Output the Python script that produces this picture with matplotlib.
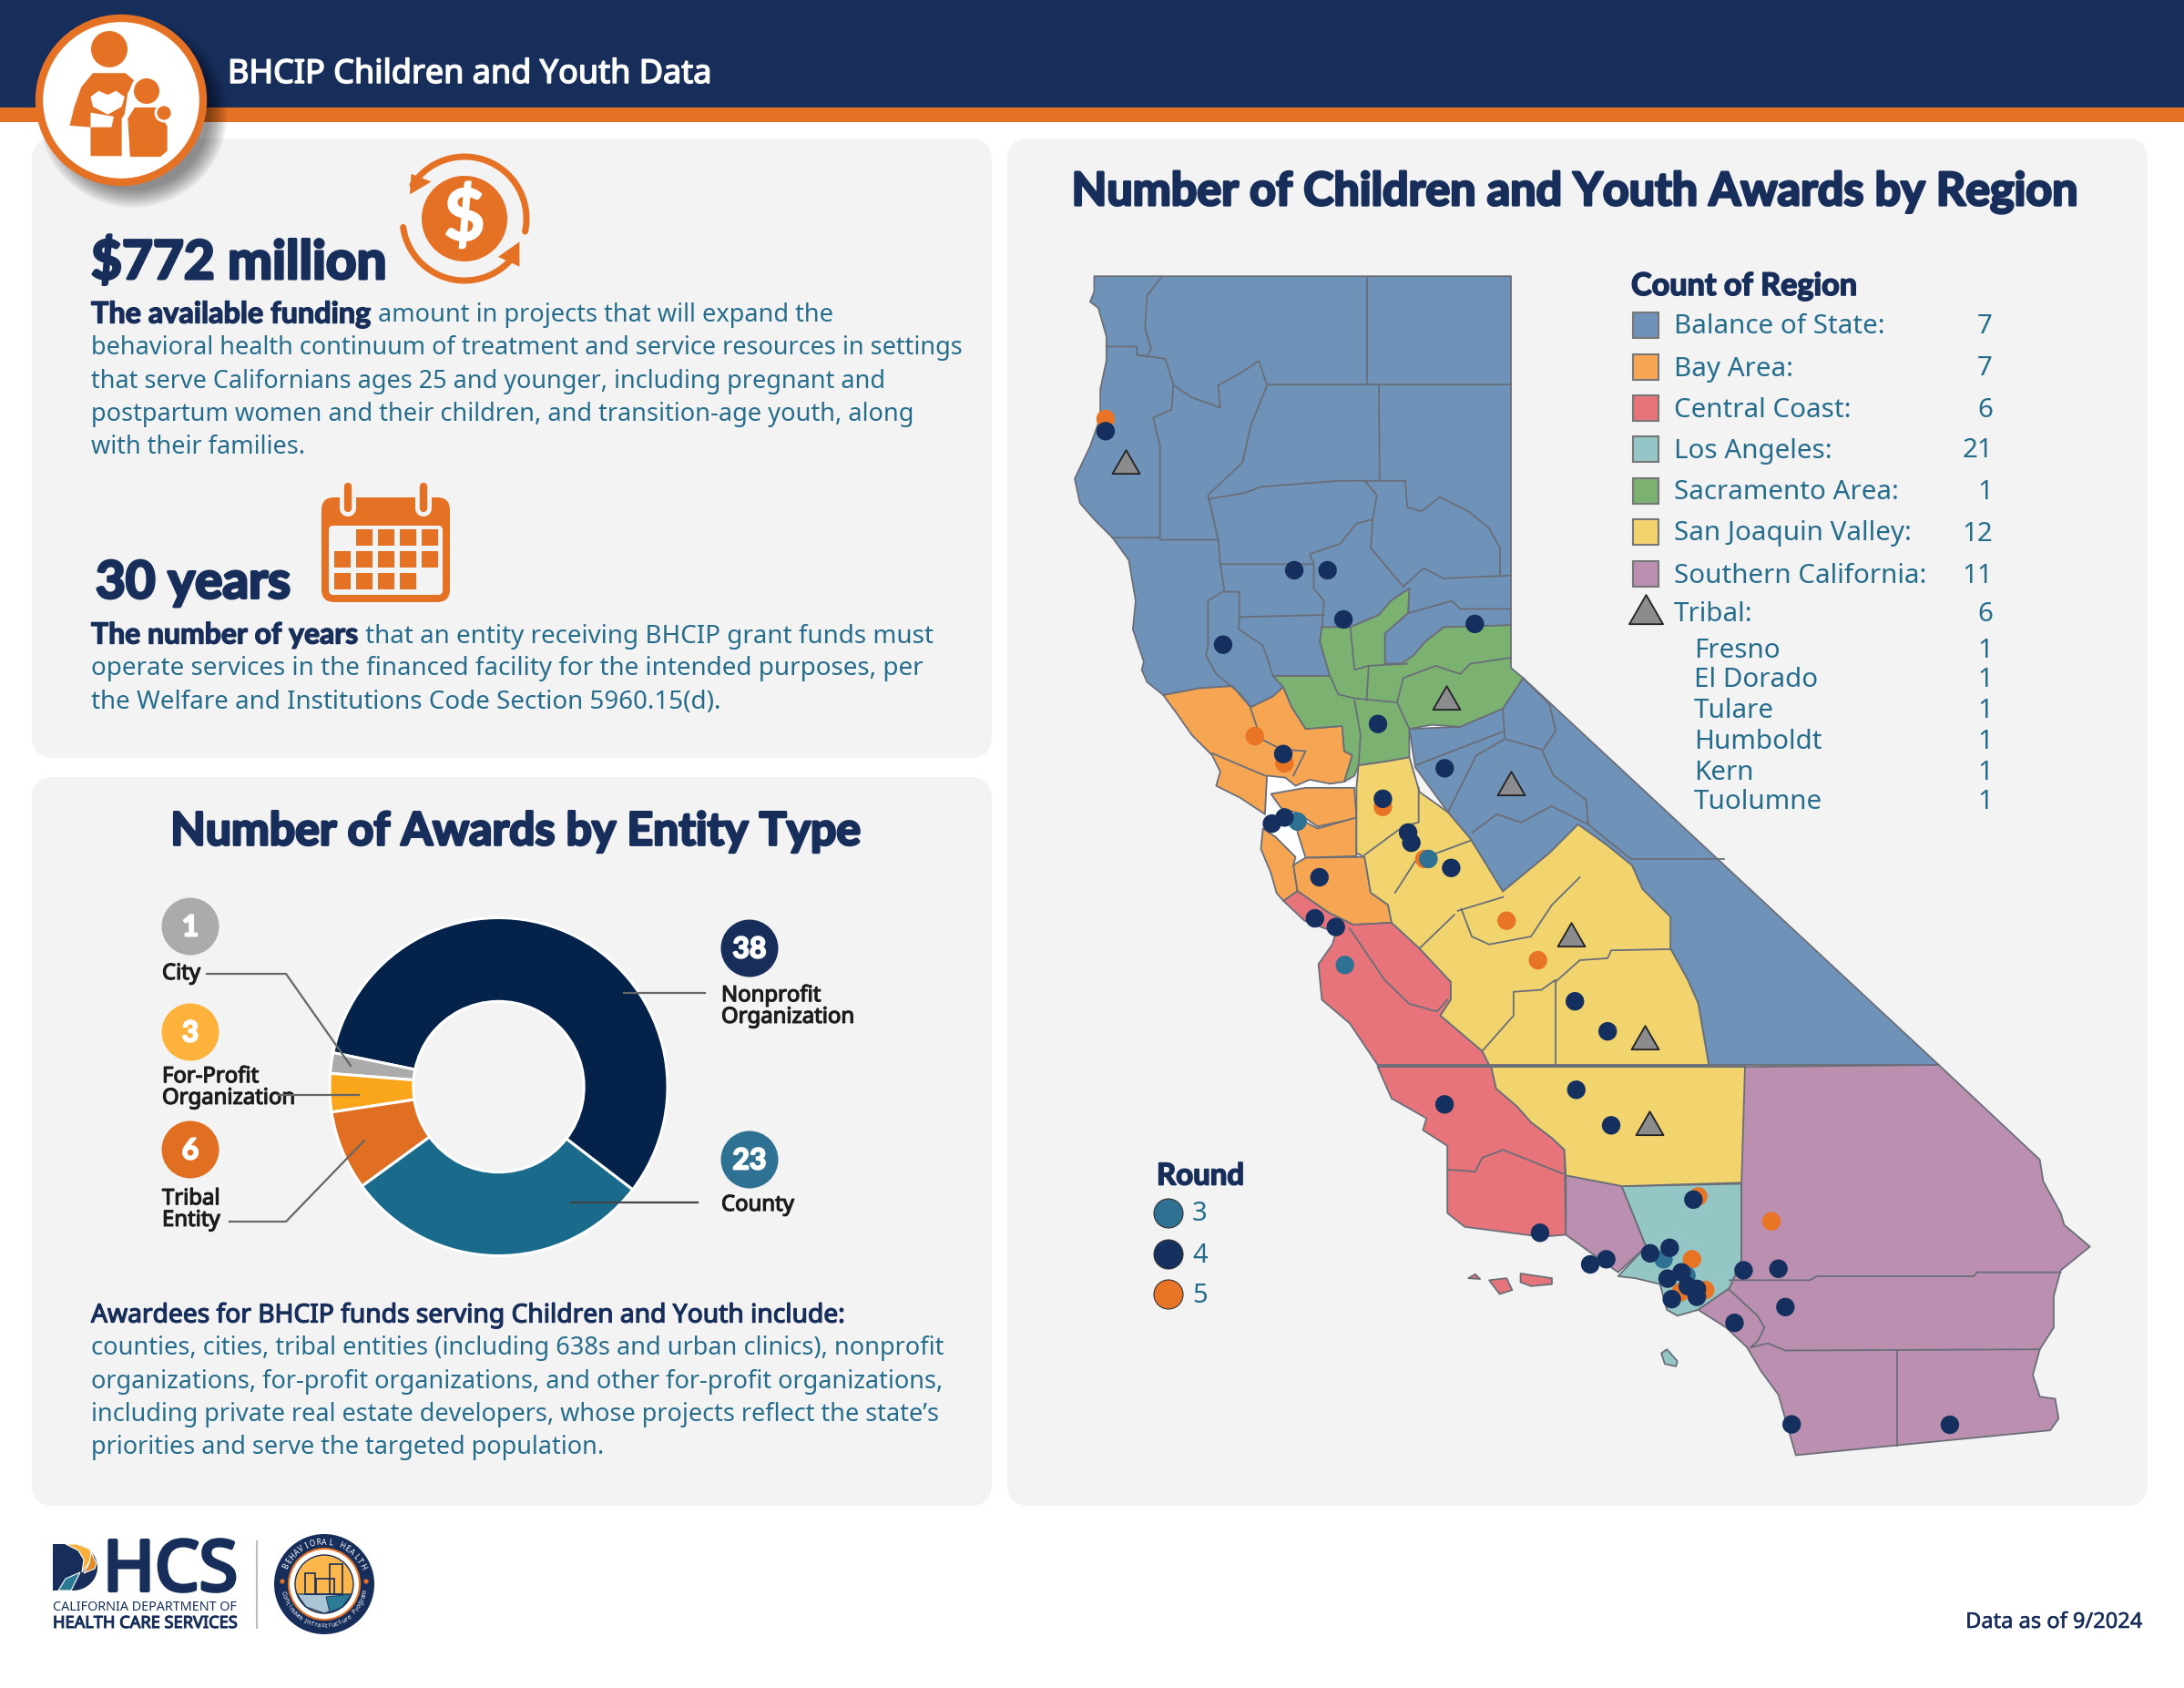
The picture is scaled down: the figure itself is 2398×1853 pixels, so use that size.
import numpy as np
import matplotlib
matplotlib.use("Agg")
import matplotlib.pyplot as plt
import matplotlib.patheffects as pe
from matplotlib.patches import Polygon, FancyBboxPatch, Circle, Ellipse, Rectangle

W, H = 2398, 1853
NAVY, TEAL, ORANGE = "#172E5B", "#266D8C", "#E57125"
CARD = "#F3F3F3"
BODY = "Noto Sans"
HEAVY = "Lato"

# ---------------- data ----------------
entity_names = ["Nonprofit\nOrganization", "County", "Tribal\nEntity", "For-Profit\nOrganization", "City"]
entity_counts = [38, 23, 6, 3, 1]
# Arc sizes as they are drawn in the picture, counter-clockwise (the printed counts are in the bubbles)
arc_names = ["Nonprofit", "City", "For-Profit", "Tribal", "County"]
arc_sizes = [40.6, 1.4, 2.6, 5.4, 21.0]
arc_colors = ["#05224B", "#ABABAB", "#F9A61B", "#E16F22", "#1A6A8C"]

region_names = ["Balance of State:", "Bay Area:", "Central Coast:", "Los Angeles:",
                "Sacramento Area:", "San Joaquin Valley:", "Southern California:", "Tribal:"]
region_counts = [7, 7, 6, 21, 1, 12, 11, 6]
region_colors = ["#6F92B8", "#F6A553", "#E7747B", "#93C6C4", "#7BB272", "#F2D46E", "#BB8FAF", "#8C8C8E"]
tribal_names = ["Fresno", "El Dorado", "Tulare", "Humboldt", "Kern", "Tuolumne"]
tribal_counts = [1, 1, 1, 1, 1, 1]
round_names = ["3", "4", "5"]
round_colors = ["#2E7192", "#15305F", "#E87425"]

# Map sites, in two survey sheets (north / south) of map units
round4_north = [(188,433),(652,775),(734,775),(773,896),(477,958),(1096,907),(858,1153),(1022,1262),
                (625,1227),(870,1337),(932,1420),(940,1445),(628,1383),(597,1398),(1038,1507),(714,1530)]
round5_north = [(188,403),(555,1183),(628,1250),(870,1357),(972,1485)]
round3_north = [(660,1393),(982,1485)]
round4_south = [(410,134),(440,156),(783,344),(830,420),(785,568),(596,605),(835,658),(953,846),(733,930),
                (805,1010),(828,997),(891,982),(919,968),(1025,1025),(1075,1021),(1085,1118),(1012,1158),
                (916,1046),(936,1030),(922,1098),(945,1065),(958,1072),(958,1092),(1094,1415),(1321,1416)]
round5_south = [(685,140),(730,240),(960,838),(951,997),(1065,901),(970,1075),(935,1080)]
round3_south = [(453,252),(910,997),(943,1038)]
tribal_north = [(237,518),(1025,1097),(1185,1308)]
tribal_south = [(778,185),(883,444),(890,662)]

def n(pts):
    return [(1130 + x / 2.24, 280 + y / 2.24) for x, y in pts]
def s(pts):
    return [(1130 + x / 1.3067, 950 + y / 2.306) for x, y in pts]

balance_polys = [
    n([(160,52),(1185,52),(1185,910),(1020,915),(975,950),(945,985),(915,1005),(875,1005),(875,930),(932,880),(935,820),(890,850),(860,885),(790,915),(720,915),(715,950),(740,1035),(600,1035),(625,1062),(600,1085),(545,1112),(500,1060),(420,1065),(330,1082),(290,1050),(277,1020),(282,1000),(255,920),(262,850),(245,750),(205,695),(160,650),(125,610),(112,550),(150,470),(175,400),(175,330),(190,260),(190,200),(170,130),(150,115),(160,90)]),
    n([(935,1165),(1060,1160),(1165,1115),(1215,1040)]) + s([(1305,505),(975,505),(960,350),(945,290),(920,210),(920,130),(880,60),(865,0)]) + n([(1420,1450),(1350,1400),(1280,1470),(1165,1565),(1085,1435),(1030,1370),(950,1260)]),
]
green_poly = [n([(935,820),(932,880),(875,930),(875,1005),(915,1005),(945,985),(975,950),(1020,915),(1185,910),(1185,1015),(1215,1040),(1165,1115),(1060,1160),(990,1155),(935,1165),(935,1235),(880,1245),(810,1255),(800,1280),(775,1295),(795,1230),(775,1220),(770,1158),(680,1165),(645,1110),(625,1062),(600,1035),(740,1035),(715,950),(720,915),(790,915),(860,885),(890,850)])]
water_poly = [n([(580,1282),(630,1285),(655,1305),(690,1290),(740,1300),(800,1295),(800,1312),(680,1310),(595,1325),(595,1350),(620,1362),(660,1385),(660,1420),(680,1485),(655,1480),(605,1430),(575,1410),(590,1385),(582,1370)])]
bay_polys = [
    n([(330,1082),(420,1065),(500,1060),(545,1112),(600,1085),(625,1062),(645,1110),(680,1165),(770,1158),(775,1220),(795,1230),(775,1295),(740,1300),(690,1290),(655,1305),(630,1285),(585,1280),(580,1375),(520,1335),(460,1305),(470,1270),(450,1230),(400,1180),(365,1130)]),
    n([(595,1325),(680,1310),(800,1310),(805,1385),(710,1405),(660,1372),(620,1360)]),
    n([(660,1385),(710,1410),(805,1383),(805,1478),(680,1482),(660,1420)]),
    n([(575,1410),(605,1430),(655,1480),(650,1500)]) + s([(385,65),(365,90),(355,70),(347,20)]) + n([(570,1460)]),
    n([(650,1500),(680,1482),(825,1480),(840,1568)]) + s([(515,100),(520,145),(465,150),(430,120),(385,65)]),
]
red_polys = [
    s([(365,90),(385,65),(430,120),(465,150),(520,145),(560,210),(605,295),(605,340),(590,380),(650,470),(660,505),(500,505),(460,400),(420,340),(415,250),(435,200),(440,170),(395,140)]),
    s([(500,510),(663,510),(670,565),(700,610),(720,650),(750,690),(768,720),(770,935),(735,940),(625,915),(600,880),(600,710),(565,670),(570,640),(520,590)]),
    s([(630,1045),(640,1035),(647,1047)]),
    s([(660,1050),(685,1045),(693,1075),(675,1085)]),
    s([(705,1033),(750,1045),(750,1060),(720,1065),(705,1055)]),
]
yellow_polys = [
    n([(810,1255),(880,1245),(935,1235),(960,1320),(1030,1370),(1085,1435),(1165,1565),(1280,1470),(1350,1400),(1420,1450)]) + s([(865,0),(880,60),(920,130),(920,210),(945,290),(960,350),(975,505),(660,505),(650,470),(590,380),(605,340),(605,295),(560,210),(520,145),(515,100),(490,69)]) + n([(825,1480),(805,1470),(805,1310)]),
    s([(663,510),(1027,510),(1027,803),(850,812),(770,785),(768,720),(750,690),(720,650),(700,610),(670,565)]),
]
purple_polys = [
    s([(1027,510),(1305,505),(1450,745),(1455,800),(1480,880),(1485,910),(1522,965),(1480,1025),(1470,1090),(1470,1170),(1450,1225),(1440,1290),(1450,1345),(1472,1350),(1477,1400),(1465,1430),(1100,1493),(1075,1340),(1050,1280),(1030,1220),(1000,1170),(960,1125),(1005,1070),(1022,1000),(1022,806)]),
    s([(770,785),(850,812),(885,965),(845,1030),(770,935)]),
]
teal_polys = [
    s([(850,812),(1022,806),(1022,1000),(1005,1070),(960,1125),(930,1140),(915,1125),(905,1060),(870,1045),(845,1040),(885,965)]),
    s([(907,1235),(915,1225),(930,1255),(928,1268),(912,1262)]),
]
county_lines = [
    n([(325,55),(290,100),(285,180),(300,230),(290,250),(265,245),(265,225),(190,225)]),
    n([(265,245),(335,255),(355,320),(350,380),(305,400),(322,470),(322,695),(205,695)]),
    n([(355,320),(400,350),(470,375),(465,320),(520,290),(565,260),(585,320),(545,420),(525,510),(440,590),(465,700),(322,700)]),
    n([(830,55),(830,315)]), n([(585,318),(1185,318)]), n([(860,318),(862,555)]),
    n([(440,600),(530,585),(570,570),(760,555),(925,555),(930,620),(965,630),(1010,595),(1080,630),(1130,670),(1158,720),(1158,785)]),
    n([(825,555),(855,590),(845,650),(805,660),(765,710),(690,735),(700,760),(470,760)]),
    n([(465,700),(470,760),(480,825),(440,850),(440,960),(435,985),(460,1030),(515,1075),(545,1112)]),
    n([(845,650),(840,720),(920,815)]), n([(700,760),(700,820),(725,850),(720,915)]),
    n([(480,828),(517,828),(517,890),(725,885)]), n([(517,890),(515,920),(575,960),(600,1035)]),
    n([(920,815),(970,770),(1020,795),(1185,788)]), n([(935,880),(1040,850),(1060,870),(1185,870)]),
    n([(790,915),(800,1020),(835,1010),(830,1095)]), n([(740,1035),(760,1080),(800,1090),(905,1100),(935,1165)]),
    n([(800,1095),(815,1180),(810,1255)]), n([(905,1100),(920,1040),(1000,1010),(1060,1030),(1085,1005),(1185,990)]),
    n([(835,1010),(930,1005)]),
    n([(1165,1115),(1170,1190),(1100,1230),(1030,1370)]), n([(950,1255),(1170,1170)]),
    n([(1170,1190),(1260,1215),(1290,1280),(1370,1340),(1375,1400),(1285,1355),(1210,1395),(1150,1375),(1090,1420)]),
    n([(1215,1040),(1280,1105),(1295,1170),(1265,1215)]), n([(1375,1400),(1480,1485),(1709,1485)]),
    n([(545,1115),(570,1190),(620,1215),(680,1220),(650,1280)]), n([(450,1225),(580,1280)]),
    n([(825,1475),(920,1405),(958,1395),(958,1310)]), n([(900,1568),(950,1490),(1085,1440)]),
    s([(560,210),(610,125)]), s([(615,115),(680,80)]), s([(620,110),(635,180),(660,200),(720,180),(750,100),(790,30)]),
    s([(755,295),(790,240),(830,235),(835,215),(920,212)]), s([(755,295),(755,505)]),
    s([(755,290),(735,315),(695,320),(695,380),(650,470)]),
    s([(460,160),(510,290),(545,350),(585,370),(600,340)]),
    s([(500,507),(1027,507)]), s([(600,770),(640,775),(650,740),(680,720),(765,780)]),
    s([(1005,1050),(1120,1050),(1130,1040),(1355,1040),(1360,1030),(1480,1030)]),
    s([(1005,1075),(1045,1140),(1055,1170),(1045,1205),(1035,1220),(1060,1210),(1085,1228),(1450,1225)]),
    s([(1245,1228),(1245,1470)]),
]

# ---------------- canvas ----------------
fig = plt.figure(figsize=(W / 100, H / 100), dpi=100, facecolor="white")
ax = fig.add_axes([0, 0, 1, 1])
ax.set_xlim(0, W); ax.set_ylim(H, 0); ax.axis("off")
rend = fig.canvas.get_renderer()

def txt(s_, x, y, width=None, size=20, color=NAVY, family=BODY, ha="left", z=20, stroke=0, dy=3):
    t = ax.text(x, y + dy, s_, fontsize=size, color=color, family=family, ha=ha, va="center", zorder=z,
                fontweight="bold" if family == HEAVY else "normal")
    if width:
        t.set_fontsize(size * width / t.get_window_extent(rend).width)
    if stroke:
        t.set_path_effects([pe.withStroke(linewidth=stroke, foreground=color)])
    return t

def card(x0, y0, x1, y1):
    ax.add_patch(FancyBboxPatch((x0 + 24, y0 + 24), x1 - x0 - 48, y1 - y0 - 48,
                                boxstyle="round,pad=24,rounding_size=24", fc=CARD, ec="none", zorder=1))

card(35, 152, 1089, 832); card(35, 853, 1089, 1653); card(1106, 152, 2358, 1653)

# header
ax.add_patch(Rectangle((0, 0), W, 118, fc=NAVY, ec="none", zorder=2))
ax.add_patch(Rectangle((0, 118), W, 16, fc=ORANGE, ec="none", zorder=2))
txt("BHCIP Children and Youth Data", 250, 78, width=532, color="white", z=5, stroke=1.1, dy=4)

# round badge
for k in range(14):
    ax.add_patch(Circle((146, 124), 104 - k * 1.5, fc="#000000", alpha=0.035, ec="none", zorder=3))
ax.add_patch(Ellipse((133, 110), 180, 180, fc="white", ec=ORANGE, lw=6, zorder=4))
def z3(pts):
    return [(x / 1.96, y / 2.306) for x, y in pts]
ax.add_patch(Ellipse((120, 54), 40, 40, fc=ORANGE, ec="none", zorder=5))
ax.add_patch(Polygon(z3([(150,318),(160,270),(175,220),(200,185),(270,185),(290,205),(275,235),(268,290),(265,395),(195,395),(195,322)]), fc=ORANGE, ec="none", zorder=5))
ax.add_patch(Polygon(z3([(232,290),(200,270),(195,245),(212,230),(232,240),(250,230),(268,245),(262,270)]), fc="white", ec="none", zorder=6))
ax.add_patch(Polygon(z3([(195,285),(245,295),(240,322),(195,322)]), fc="white", ec="none", zorder=6))
ax.add_patch(Ellipse((161, 100), 36, 36, fc="white", ec="none", zorder=6))
ax.add_patch(Ellipse((161, 100), 28, 28, fc=ORANGE, ec="none", zorder=7))
ax.add_patch(Polygon(z3([(262,400),(262,300),(285,260),(345,260),(375,320),(370,400)]), fc="white", ec="none", zorder=6))
ax.add_patch(Polygon(z3([(280,397),(275,300),(290,272),(335,272),(360,320),(360,382),(345,397)]), fc=ORANGE, ec="none", zorder=7))
ax.add_patch(Ellipse((180, 124), 18, 18, fc=ORANGE, ec="white", lw=2, zorder=8))

# funding block
txt("$772 million", 100, 284, width=324, family=HEAVY, stroke=2.2, dy=4)
txt("The available funding", 100, 343, width=307, family=HEAVY, stroke=1.0, dy=2)
txt("amount in projects that will expand the", 415, 343, width=501, color=TEAL)
for line, y, w in [("behavioral health continuum of treatment and service resources in settings", 379, 955),
                   ("that serve Californians ages 25 and younger, including pregnant and", 416, 871),
                   ("postpartum women and their children, and transition-age youth, along", 452, 905),
                   ("with their families.", 488, 235)]:
    txt(line, 100, y, width=w, color=TEAL)
txt("30 years", 105, 637, width=214, family=HEAVY, stroke=2.2, dy=3)
txt("The number of years", 100, 696, width=293, family=HEAVY, stroke=1.0, dy=1)
txt("that an entity receiving BHCIP grant funds must", 401, 696, width=624, color=TEAL)
txt("operate services in the financed facility for the intended purposes, per", 100, 731, width=914, color=TEAL)
txt("the Welfare and Institutions Code Section 5960.15(d).", 100, 768, width=692, color=TEAL)

# dollar icon
cx, cy = 510, 240
ax.add_patch(Circle((cx, cy), 47, fc=ORANGE, ec="none", zorder=5))
txt("$", cx, cy - 2, size=56, color="white", family=HEAVY, ha="center", z=6, stroke=1.5)
for a0, a1 in [(147, -12), (-35, -172)]:
    th = np.radians(np.linspace(a0, a1, 80))
    ax.plot(cx + 68 * np.cos(th), cy - 68 * np.sin(th), color=ORANGE, lw=5, solid_capstyle="round", zorder=5)
ax.add_patch(Polygon(z3([(882,492),(885,440),(928,460)]), fc=ORANGE, ec="none", zorder=5))
ax.add_patch(Polygon(z3([(1118,612),(1118,675),(1072,650)]), fc=ORANGE, ec="none", zorder=5))

# calendar icon
ax.add_patch(FancyBboxPatch((361, 554), 125, 99, boxstyle="round,pad=8,rounding_size=14", fc=ORANGE, ec="none", zorder=5))
ax.add_patch(FancyBboxPatch((363, 579), 121, 72, boxstyle="round,pad=2,rounding_size=5", fc=CARD, ec="none", zorder=6))
for row, cols in enumerate([[1, 2, 3, 4], [0, 1, 2, 3, 4], [0, 1, 2, 3]]):
    for c in cols:
        ax.add_patch(Rectangle((367 + 24 * c, 581 + 24 * row), 18, 18, fc=ORANGE, ec="none", zorder=7))
for x_ in (382, 465):
    ax.plot([x_, x_], [534, 558], color=CARD, lw=13, solid_capstyle="round", zorder=7)
    ax.plot([x_, x_], [534, 558], color=ORANGE, lw=6, solid_capstyle="round", zorder=8)

# donut
txt("Number of Awards by Entity Type", 565, 910, width=758, family=HEAVY, ha="center", stroke=2.0)
R = 185.5
pax = fig.add_axes([(547.5 - R) / W, 1 - (1193 + R) / H, 2 * R / W, 2 * R / H])
pax.pie(arc_sizes, colors=arc_colors, startangle=-37.5, counterclock=True, radius=1,
        wedgeprops=dict(width=0.495, edgecolor="white", linewidth=2.2))
pax.set_xlim(-1, 1); pax.set_ylim(-1, 1); pax.set_zorder(3); pax.patch.set_alpha(0)
top = fig.add_axes([0, 0, 1, 1]); top.set_xlim(0, W); top.set_ylim(H, 0); top.axis("off"); top.set_zorder(6); top.patch.set_alpha(0)
for xs, ys, c in [((227, 314, 385), (1069, 1069, 1170), "#666666"), ((306, 394), (1202, 1202), "#666666"),
                  ((252, 314, 400), (1341, 1341, 1252), "#666666"), ((685, 774), (1090, 1090), "#666666"),
                  ((627, 766), (1320, 1320), "#444444")]:
    top.plot(xs, ys, color=c, lw=1.6)
bubbles = [(823, 1041), (823, 1273), (209, 1262), (209, 1133), (209, 1017)]
bubble_cols = ["#172E5B", "#2E7192", "#E16F22", "#FDB23C", "#ABABAB"]
for (bx, by), c, v in zip(bubbles, bubble_cols, entity_counts):
    ax.add_patch(Circle((bx, by), 31.5, fc=c, ec="none", zorder=5))
    txt(str(v), bx, by, size=23, color="white", family=HEAVY, ha="center", stroke=1.4, dy=1)
label_pos = [(792, 1103), (792, 1321), (178, 1326), (178, 1192), (178, 1067)]
for name, (lx, ly) in zip(entity_names, label_pos):
    t = ax.text(lx, ly + 2, name, fontsize=17.2, color="#1C1C1C", family=BODY, ha="left", va="center",
                linespacing=0.98, zorder=20)
    t.set_path_effects([pe.withStroke(linewidth=0.9, foreground="#1C1C1C")])

txt("Awardees for BHCIP funds serving Children and Youth include:", 100, 1441, width=828, stroke=0.9)
for line, y, w in [("counties, cities, tribal entities (including 638s and urban clinics), nonprofit", 1477, 937),
                   ("organizations, for-profit organizations, and other for-profit organizations,", 1514, 937),
                   ("including private real estate developers, whose projects reflect the state\u2019s", 1550, 931),
                   ("priorities and serve the targeted population.", 1586, 565)]:
    txt(line, 100, y, width=w, color=TEAL)

# map
txt("Number of Children and Youth Awards by Region", 1730, 208, width=1105, family=HEAVY, ha="center", stroke=2.0)
EDGE = "#6A6E78"
groups = [(balance_polys, region_colors[0]), (water_poly, "white"), (bay_polys, region_colors[1]), (red_polys, region_colors[2]),
          (teal_polys, region_colors[3]), (green_poly, region_colors[4]), (yellow_polys, region_colors[5]), (purple_polys, region_colors[6])]
for polys, col in groups:
    for p in polys:
        ax.add_patch(Polygon(p, closed=True, fc=col, ec=EDGE if col != "white" else "none", lw=1.3, zorder=8, joinstyle="round"))
for seg in county_lines:
    ax.plot(*zip(*seg), color=EDGE, lw=1.3, zorder=9, solid_joinstyle="round")

def dots(pts, col, z):
    xs, ys = zip(*pts)
    ax.scatter(xs, ys, s=215, color=col, edgecolor="none", zorder=z)
dots(n(round5_north) + s(round5_south), round_colors[2], 10)
dots(n(round3_north) + s(round3_south), round_colors[0], 11)
dots(n(round4_north) + s(round4_south), round_colors[1], 12)
tri = n(tribal_north) + s(tribal_south)
ax.scatter(*zip(*tri), s=620, marker=(3, 0, 0), facecolor="#8C8C8E", edgecolor="#222222", linewidth=1.3, zorder=13)

# region legend
txt("Count of Region", 1791, 311, width=248, family=HEAVY, stroke=1.2)
leg_y = [357, 403, 448, 493, 539, 584, 630, 673]
for name, v, c, y in zip(region_names, region_counts, region_colors, leg_y):
    if name != "Tribal:":
        ax.add_patch(Rectangle((1793, y - 14), 28, 28, fc=c, ec="#777777", lw=1.5, zorder=8))
    else:
        ax.scatter([1807], [y + 1], s=950, marker=(3, 0, 0), facecolor=c, edgecolor="#222222", linewidth=1.3, zorder=8)
    txt(name, 1838, y, size=21.3, color=TEAL, dy=2)
    txt(str(v), 2188, y, size=21.3, color=TEAL, ha="right", dy=2)
for name, v, y in zip(tribal_names, tribal_counts, [713, 746, 780, 813, 847, 879]):
    txt(name, 1860, y, size=21.3, color=TEAL, dy=1)
    txt(str(v), 2188, y, size=21.3, color=TEAL, ha="right", dy=1)

# round legend
txt("Round", 1270, 1290, width=96, family=HEAVY, stroke=1.2, dy=1)
for name, c, y in zip(round_names, round_colors, [1332, 1377, 1421]):
    ax.add_patch(Circle((1283, y), 16, fc=c, ec="#333333", lw=0.8, zorder=8))
    txt(name, 1309, y, size=21, color=TEAL, dy=1)

# footer
txt("Data as of 9/2024", 2352, 1778, width=194, size=16, color=NAVY, ha="right", stroke=0.4)
th = np.radians(np.linspace(90, -90, 40))
d_shape = [(58, 1695)] + list(zip(80 + 27 * np.cos(th), 1720.5 - 25.5 * np.sin(th))) + [(58, 1746)]
ax.add_patch(Polygon(d_shape, fc=NAVY, ec="none", zorder=5))
ax.add_patch(Polygon([(72, 1695), (84, 1695), (98, 1700), (102, 1708), (96, 1718), (90, 1726), (92, 1712), (86, 1702)], fc="#FBB03B", ec="white", lw=0.8, zorder=6))
ax.add_patch(Polygon([(100, 1704), (106, 1716), (104, 1722), (92, 1727), (98, 1716)], fc="#E58B25", ec="white", lw=0.8, zorder=6))
ax.add_patch(Polygon([(64, 1746), (72, 1733), (88, 1726), (78, 1746)], fc="#2B7A96", ec="white", lw=0.8, zorder=6))
txt("HCS", 113, 1720, width=148, size=60, family=BODY, stroke=3.0, dy=6)
txt("CALIFORNIA DEPARTMENT OF", 58, 1765, width=203, dy=0)
txt("HEALTH CARE SERVICES", 58, 1782, width=203, stroke=0.8, dy=0)
ax.plot([282, 282], [1692, 1787], color="#B9BEC4", lw=1.5, zorder=5)

bx, by = 356, 1739
ax.add_patch(Circle((bx, by), 55, fc=NAVY, ec="none", zorder=5))
ax.add_patch(Circle((bx, by), 39, fc="white", ec=ORANGE, lw=1.5, zorder=6))
ax.add_patch(Circle((bx, by), 32, fc="#FDB64A", ec=NAVY, lw=1, zorder=7))
ax.add_patch(Polygon([(bx - 30, by + 11), (bx + 30, by + 11), (bx + 20, by + 25), (bx, by + 32), (bx - 20, by + 25)], fc="#A9C4D4", ec=NAVY, lw=0.8, zorder=8))
ax.add_patch(Polygon([(bx + 2, by + 14), (bx + 30, by + 11), (bx + 20, by + 25), (bx + 6, by + 31)], fc="#2B7A96", ec=NAVY, lw=0.6, zorder=8))
for x0, x1, y0 in [(-21, -10, -12), (-9, 11, -6), (6, 20, -22)]:
    ax.add_patch(Rectangle((bx + x0, by + y0), x1 - x0, 11 - y0, fc="none", ec=NAVY, lw=1.2, zorder=9))
for sx in (-1, 1):
    ax.add_patch(Circle((bx + sx * 46, by - 3), 2.6, fc=ORANGE, ec="none", zorder=9))

def curved(text, r, a0, a1, size, upright_top=True):
    for ch, a in zip(text, np.linspace(a0, a1, len(text))):
        x_ = bx + r * np.cos(np.radians(a)); y_ = by - r * np.sin(np.radians(a))
        rot = a - 90 if upright_top else a + 90
        ax.text(x_, y_, ch, fontsize=size, color="white", family=BODY, rotation=rot,
                rotation_mode="anchor", ha="center", va="center", zorder=10)
curved("BEHAVIORAL HEALTH", 46, 155, 25, 6.2, True)
curved("Continuum Infrastructure Program", 46, 192, 348, 5.0, False)

fig.savefig("out.png", dpi=100, facecolor="white")
